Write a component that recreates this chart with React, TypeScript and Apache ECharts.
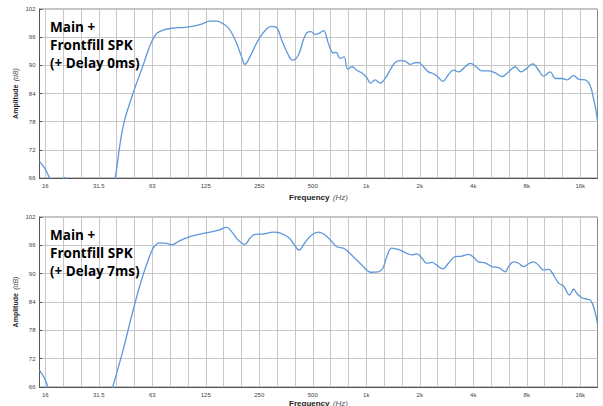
import React, { useEffect, useRef } from 'react';
import * as echarts from 'echarts';

// Octave tick labels (log-frequency axis, 1 kHz reference)
const octaveLabels = ['16', '31.5', '63', '125', '250', '500', '1k', '2k', '4k', '8k', '16k'];
const yMin = 66;
const yMax = 102;
const yStep = 6;
const fMin = 14.5;
const fMax = 20000;

const panelTitles = ['Main +\nFrontfill SPK\n(+ Delay 0ms)', 'Main +\nFrontfill SPK\n(+ Delay 7ms)'];

// Panel 1: Delay 0 ms — frequency (Hz) / amplitude (dB)
const freqDelay0 = [14.5, 15.5, 16.5, 17.7, 18.9, 20.1, 21.5, 27.8, 35.1, 38.7, 42.8, 48.8, 55.5, 59.0, 62.5, 66.1, 71.7, 80.6, 95.4, 108.6, 118.9, 131.9, 143.8, 154.1, 164.4, 173.2, 186.4, 198.9, 207.6, 221.5, 246.8, 275.2, 294.9, 315, 334.3, 364.4, 384.8, 414.8, 442.5, 464.1, 488.8, 514.8, 542.2, 574.9, 611.8, 652.7, 675.9, 711.9, 750, 784.7, 831.8, 887.4, 943.4, 1006.5, 1057.3, 1120.7, 1196.4, 1276.4, 1361.9, 1452.6, 1549.9, 1653.5, 1764, 1858.8, 1965.4, 2096.8, 2237, 2387.4, 2547, 2696.6, 2900.4, 3094.7, 3301.7, 3601.6, 3842.4, 4191, 4471.6, 4871.7, 5313.7, 5819.8, 6315, 6887.8, 7416, 8016, 8641, 9318, 9940, 10842, 11574, 12620, 13465, 14669, 15794, 17070, 17816, 18453, 19014, 19435, 20000];
const ampDelay0 = [69.5, 68.1, 66.0, 63.5, 64.5, 66.1, 64.0, 55, 57, 66.0, 76.9, 84.1, 90.0, 93.0, 95.3, 96.8, 97.5, 97.9, 98.1, 98.4, 98.8, 99.4, 99.4, 99.0, 98.3, 97.2, 94.7, 91.8, 90.2, 91.8, 95.4, 97.8, 98.3, 97.9, 95.4, 92.2, 91.1, 92.2, 95.4, 97.0, 97.2, 96.6, 96.8, 97.4, 94.7, 92.6, 92.8, 91.5, 91.8, 89.2, 89.7, 88.9, 88.4, 87.4, 86.2, 86.9, 86.2, 87.2, 89.0, 90.6, 91.0, 90.9, 90.2, 90.5, 90.6, 89.7, 88.6, 88.2, 87.4, 86.6, 88.0, 89.0, 88.6, 89.7, 90.4, 89.6, 88.8, 88.8, 88.4, 87.6, 88.6, 89.7, 88.6, 89.4, 90.3, 89.0, 87.7, 88.6, 87.2, 87.2, 86.9, 87.8, 87.0, 86.9, 86.3, 85.0, 82.8, 81.2, 78.2];

// Panel 2: Delay 7 ms
const freqDelay7 = [14.5, 15.5, 16.1, 17.0, 27.8, 33.8, 37.6, 42.8, 48.8, 54.4, 59.3, 63.2, 66.3, 69.0, 75.3, 80.3, 87.5, 97.6, 111, 131.9, 146.9, 163.7, 174.7, 190.3, 207.6, 221.5, 236.5, 263.3, 299.9, 334.3, 364.4, 388.8, 418.4, 452.3, 493.2, 538.7, 586.2, 639.3, 682, 743.2, 793, 864.7, 922.8, 1006.5, 1057, 1170, 1238.6, 1304.5, 1391.8, 1485, 1549.9, 1690.3, 1804, 1925, 2054, 2191, 2338, 2495, 2696.6, 2900, 3163, 3451, 3759, 4010, 4279, 4668, 5091, 5545, 6050, 6315, 6737, 7189, 7670, 8183, 8731, 9318, 9940, 10605, 11316, 12077, 12884, 13926, 14669, 15331, 16357, 17451, 18214, 19014, 20000];
const ampDelay7 = [69.5, 67.8, 66.2, 62, 55, 60, 66.2, 73.8, 82.3, 88.7, 92.9, 95.4, 96.3, 96.5, 96.4, 96.1, 96.8, 97.6, 98.2, 98.8, 99.2, 99.8, 98.9, 97.1, 96.2, 97.5, 98.3, 98.4, 98.8, 98.5, 97.7, 96.4, 95.0, 96.6, 98.2, 98.8, 98.2, 96.8, 95.7, 95.4, 94.6, 93.2, 92.2, 90.8, 90.3, 90.4, 91.1, 93.6, 95.4, 95.2, 95.0, 94.3, 94.0, 94.2, 93.3, 92.2, 92.4, 91.8, 91.0, 92.2, 93.6, 93.7, 94.1, 93.5, 92.5, 92.3, 91.5, 91.3, 90.4, 91.5, 92.5, 92.2, 91.5, 92.1, 92.5, 91.8, 90.8, 90.9, 89.7, 88.0, 87.4, 85.5, 86.7, 85.8, 84.9, 84.6, 84.4, 83.0, 79.4];

const toOct = (f: number) => Math.log2(f / 1000);

// third-octave grid positions and octave label positions (octaves re 1 kHz)
const thirdOctaves: number[] = [];
for (let k = -18; k <= 12; k++) thirdOctaves.push(k / 3);
const octaves: number[] = [];
for (let k = -6; k <= 4; k++) octaves.push(k);

const FONT = '"Liberation Sans", Arial, sans-serif';
const LINE_COLOR = '#5e98da';
const GRID_COLOR = '#c6c6c6';

export default function App() {
  const ref = useRef<HTMLDivElement>(null);
  useEffect(() => {
    if (!ref.current) return;
    const chart = echarts.init(ref.current, undefined, { renderer: 'svg' });
    const grids = [
      { left: 39.5, right: 5.5, top: 9, height: 169 },
      { left: 39.5, right: 5.5, top: 217, height: 170 },
    ];
    const xNameGaps = [13, 10];
    const xAxes = grids.map((_, i) => ({
      type: 'value',
      gridIndex: i,
      min: toOct(fMin),
      max: toOct(fMax),
      axisLine: { show: true, onZero: false, lineStyle: { color: '#555', width: 1 } },
      axisTick: { show: false },
      axisLabel: {
        customValues: octaves,
        formatter: (v: number) => octaveLabels[Math.round(v) + 6] ?? '',
        fontSize: 6,
        color: '#444',
        fontFamily: FONT,
        margin: 5,
      },
      splitLine: { show: false },
      name: '{a|Frequency} {b|(Hz)}',
      nameLocation: 'middle',
      nameGap: xNameGaps[i],
      nameMoveOverlap: false,
      nameTextStyle: {
        rich: {
          a: { fontSize: 8, fontWeight: 'bold', color: '#222', fontFamily: FONT },
          b: { fontSize: 8, fontStyle: 'italic', color: '#555', fontFamily: FONT },
        },
      },
    }));
    const yAxes = grids.map((_, i) => ({
      type: 'value',
      gridIndex: i,
      min: yMin,
      max: yMax,
      interval: yStep,
      axisLine: { show: true, onZero: false, lineStyle: { color: '#555', width: 1 } },
      axisTick: { show: true, inside: true, length: 3, lineStyle: { color: '#555' } },
      axisLabel: { fontSize: 6, color: '#444', fontFamily: FONT, margin: 4 },
      splitLine: { show: true, lineStyle: { color: GRID_COLOR, width: 1, type: 'solid' } },
      name: '{a|Amplitude} {b|(dB)}',
      nameLocation: 'middle',
      nameGap: 18,
      nameMoveOverlap: false,
      nameTextStyle: {
        rich: {
          a: { fontSize: 7, fontWeight: 'bold', color: '#222', fontFamily: FONT },
          b: { fontSize: 7, fontStyle: 'italic', color: '#555', fontFamily: FONT },
        },
      },
    }));
    const mk = (fr: number[], am: number[], i: number) => ({
      type: 'line',
      xAxisIndex: i,
      yAxisIndex: i,
      data: fr.map((f, j) => [toOct(f), am[j]]),
      showSymbol: false,
      smooth: 0.4,
      clip: true,
      z: 5,
      lineStyle: { color: LINE_COLOR, width: 1.3 },
      markLine: {
        silent: true,
        symbol: ['none', 'none'],
        label: { show: false },
        animation: false,
        lineStyle: { color: GRID_COLOR, width: 1, type: 'solid', opacity: 1 },
        emphasis: { disabled: true },
        data: thirdOctaves.map((v) => ({ xAxis: v })),
      },
    });
    chart.setOption({
      animation: false,
      backgroundColor: '#ffffff',
      grid: grids.map((g) => ({
        ...g,
        outerBoundsMode: 'none',
        containLabel: false,
        show: true,
        borderColor: '#888',
        borderWidth: 1,
        backgroundColor: 'rgba(0,0,0,0)',
      })),
      xAxis: xAxes,
      yAxis: yAxes,
      series: [mk(freqDelay0, ampDelay0, 0), mk(freqDelay7, ampDelay7, 1)],
      graphic: [
        {
          type: 'text', left: 50, top: 18, z: 10,
          style: { text: panelTitles[0], fontSize: 13.5, fontWeight: 'bold', fontFamily: '"Open Sans", sans-serif', lineHeight: 17.8, fill: '#000' },
        },
        {
          type: 'text', left: 50, top: 226.5, z: 10,
          style: { text: panelTitles[1], fontSize: 13.5, fontWeight: 'bold', fontFamily: '"Open Sans", sans-serif', lineHeight: 17.8, fill: '#000' },
        },
      ],
    });
    return () => chart.dispose();
  }, []);
  return <div ref={ref} style={{ position: 'absolute', left: 0, top: 0, width: 603, height: 406 }} />;
}
